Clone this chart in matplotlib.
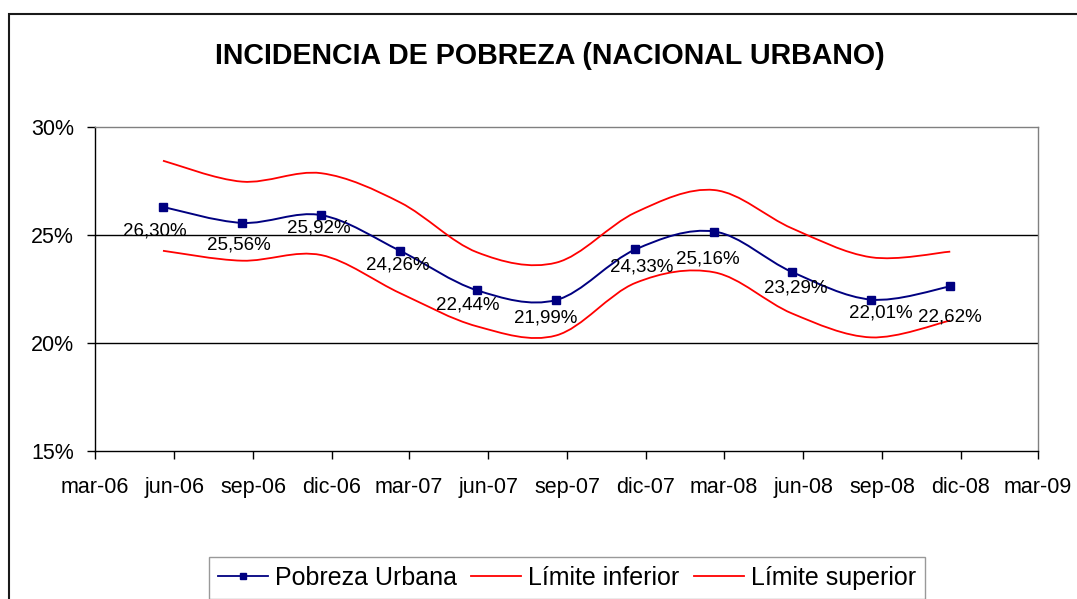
import matplotlib
matplotlib.use("Agg")
import matplotlib.pyplot as plt
import matplotlib.dates as mdates
from matplotlib.path import Path
from matplotlib.patches import PathPatch, Rectangle
from matplotlib.lines import Line2D
import numpy as np

plt.rcParams['font.family'] = ['Liberation Sans', 'DejaVu Sans']

# ---------------- data ----------------
dates = ["2006-05-19", "2006-08-19", "2006-11-19", "2007-02-19", "2007-05-19",
         "2007-08-19", "2007-11-19", "2008-02-19", "2008-05-19", "2008-08-19",
         "2008-11-19"]
pobreza = [26.30, 25.56, 25.92, 24.26, 22.44, 21.99, 24.33, 25.16, 23.29, 22.01, 22.62]
lim_inf = [24.27, 23.81, 24.07, 22.30, 20.77, 20.35, 22.78, 23.27, 21.37, 20.26, 21.04]
lim_sup = [28.44, 27.47, 27.86, 26.50, 24.20, 23.72, 26.04, 27.08, 25.31, 23.97, 24.23]
tick_dates = ["2006-03-01", "2006-06-01", "2006-09-01", "2006-12-01", "2007-03-01",
              "2007-06-01", "2007-09-01", "2007-12-01", "2008-03-01", "2008-06-01",
              "2008-09-01", "2008-12-01", "2009-03-01"]
tick_labels = ["mar-06", "jun-06", "sep-06", "dic-06", "mar-07", "jun-07", "sep-07",
               "dic-07", "mar-08", "jun-08", "sep-08", "dic-08", "mar-09"]
y_ticks = [15, 20, 25, 30]
title = "INCIDENCIA DE POBREZA (NACIONAL URBANO)"
series_names = ["Pobreza Urbana", "Límite inferior", "Límite superior"]

# label offsets in pixels (dx, dy downward) — layout only
label_offsets = [(-8, 24), (-3, 22), (-2, 13), (-3, 14), (-9, 15), (-10, 18),
                 (6, 17.5), (-7, 27.5), (4, 16), (10, 13.5), (0, 30.5)]

W, H = 1077, 599
fig = plt.figure(figsize=(W / 100, H / 100), dpi=100)
fig.patch.set_facecolor("white")

# outer chart border
fig.patches.append(Rectangle((9 / W, -0.1), 1.2, 1 - 14 / H + 0.1,
                             transform=fig.transFigure, fill=False,
                             edgecolor="#1a1a1a", linewidth=1.5))

ax = fig.add_axes([95 / W, (H - 451) / H, (1038 - 95) / W, (451 - 127) / H])

xnum = mdates.datestr2num(dates)


def smooth_path(x, y):
    x = np.asarray(x, float)
    y = np.asarray(y, float)
    n = len(x)
    verts = [(x[0], y[0])]
    codes = [Path.MOVETO]
    for i in range(n - 1):
        i0 = max(i - 1, 0)
        i3 = min(i + 2, n - 1)
        c1 = (x[i] + (x[i + 1] - x[i0]) / 6, y[i] + (y[i + 1] - y[i0]) / 6)
        c2 = (x[i + 1] - (x[i3] - x[i]) / 6, y[i + 1] - (y[i3] - y[i]) / 6)
        verts += [c1, c2, (x[i + 1], y[i + 1])]
        codes += [Path.CURVE4] * 3
    return Path(verts, codes)


navy = "#000080"
red = "#FF0000"
ax.add_patch(PathPatch(smooth_path(xnum, lim_inf), fill=False, edgecolor=red, linewidth=1.3, zorder=3))
ax.add_patch(PathPatch(smooth_path(xnum, lim_sup), fill=False, edgecolor=red, linewidth=1.3, zorder=3))
ax.add_patch(PathPatch(smooth_path(xnum, pobreza), fill=False, edgecolor=navy, linewidth=1.4, zorder=4))
ax.plot(xnum, pobreza, linestyle="none", marker="s", markersize=5.5, color=navy, zorder=5)

for xv, v, (dx, dy) in zip(xnum, pobreza, label_offsets):
    ax.annotate(f"{v:.2f}".replace(".", ",") + "%", (xv, v), xytext=(dx, -dy),
                textcoords="offset pixels", ha="center", va="center",
                fontsize=13.5, color="black", zorder=6)

tnum = mdates.datestr2num(tick_dates)
ax.set_xlim(tnum[0], tnum[-1])
ax.set_ylim(15, 30)
ax.set_xticks(tnum)
ax.set_xticklabels(tick_labels)
ax.set_yticks(y_ticks)
ax.set_yticklabels([f"{t}%" for t in y_ticks])
ax.tick_params(axis="x", direction="out", length=6, width=1, pad=12.5, labelsize=15.5)
ax.tick_params(axis="y", direction="out", length=6, width=1, pad=9, labelsize=15.5)

for yv in [20, 25]:
    ax.axhline(yv, color="black", linewidth=1.0, zorder=1)

ax.spines["left"].set_color("black")
ax.spines["bottom"].set_color("black")
ax.spines["top"].set_color("#808080")
ax.spines["right"].set_color("#808080")
for s in ax.spines.values():
    s.set_linewidth(1.0)

fig.text(550 / W, 1 - 56 / H, title, ha="center", va="center",
         fontsize=20.6, fontweight="bold")

handles = [Line2D([], [], color=navy, marker="s", markersize=5, linewidth=1.3),
           Line2D([], [], color=red, linewidth=1.3),
           Line2D([], [], color=red, linewidth=1.3)]
leg = fig.legend(handles, series_names, loc="upper left",
                 bbox_to_anchor=(209 / W, 1 - 557 / H), ncol=3,
                 fontsize=18, frameon=True, fancybox=False,
                 handlelength=2.0, handletextpad=0.3, columnspacing=0.55,
                 borderpad=0.35, borderaxespad=0)
leg.get_frame().set_edgecolor("#808080")
leg.get_frame().set_linewidth(1.0)

fig.savefig("out.png", dpi=100)
